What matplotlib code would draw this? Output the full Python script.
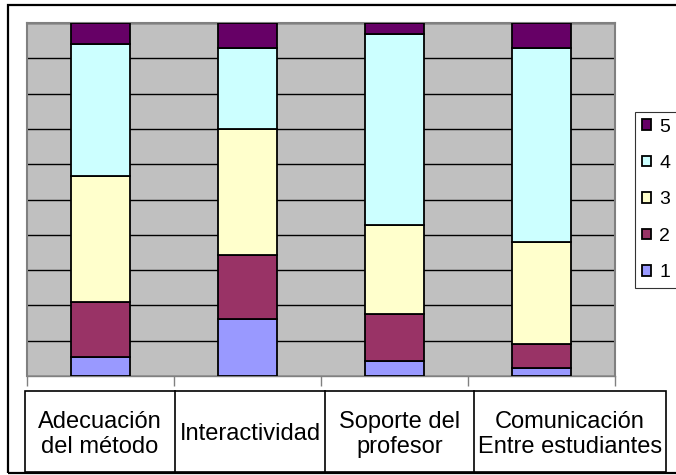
import matplotlib
matplotlib.use("Agg")
import matplotlib.pyplot as plt
from matplotlib.patches import Rectangle
from matplotlib.lines import Line2D
import numpy as np

plt.rcParams['font.family'] = ['Liberation Sans', 'DejaVu Sans']

categories = ["Adecuación\ndel método", "Interactividad", "Soporte del\nprofesor", "Comunicación\nEntre estudiantes"]
series_names = ["1", "2", "3", "4", "5"]
v1 = [5.5, 16.1, 4.3, 2.4]
v2 = [15.6, 18.1, 13.4, 6.7]
v3 = [35.6, 35.7, 25.0, 28.8]
v4 = [37.3, 22.9, 54.3, 55.0]
v5 = [6.0, 7.2, 3.0, 7.1]
colors = ["#9999FF", "#993366", "#FFFFCC", "#CCFFFF", "#660066"]

W, H = 676, 475
fig = plt.figure(figsize=(W / 100, H / 100), dpi=100)

def fx(px):
    return px / W

def fy(py):
    return 1 - py / H

# plot area
left, top, right, bottom = 27, 23, 615, 376
ax = fig.add_axes([fx(left), fy(bottom), fx(right - left), (bottom - top) / H])
ax.set_facecolor("#C0C0C0")

data = np.array([v1, v2, v3, v4, v5], dtype=float)
data = data / data.sum(axis=0) * 100
x = np.arange(len(categories))
base = np.zeros(len(categories))
handles = []
for vals, c, name in zip(data, colors, series_names):
    b = ax.bar(x, vals, width=0.4, bottom=base, color=c, edgecolor="black",
               linewidth=1.3, label=name, zorder=3)
    handles.append(b)
    base += vals

ax.set_xlim(-0.5, len(categories) - 0.5)
ax.set_ylim(0, 100)
ax.set_yticks(np.arange(0, 101, 10))
ax.yaxis.grid(True, color="black", linewidth=1.0, zorder=1)
ax.tick_params(axis="y", left=False, labelleft=False)
ax.set_xticks(np.arange(-0.5, len(categories), 1.0))
ax.tick_params(axis="x", bottom=True, labelbottom=False, length=7, color="#808080", width=1)
for side in ["left", "top", "right"]:
    ax.spines[side].set_color("#808080")
    ax.spines[side].set_linewidth(1.5)
ax.spines["bottom"].set_color("#808080")
ax.spines["bottom"].set_linewidth(1.0)

# outer frame
fig.add_artist(Rectangle((fx(8), fy(473)), 1.0, (473 - 4.5) / H, transform=fig.transFigure,
                         fill=False, edgecolor="black", linewidth=1.6))

# category table
cols = [25, 175, 325, 474, 666]
ty0, ty1 = 391, 472
fig.add_artist(Rectangle((fx(cols[0]), fy(ty1)), fx(cols[-1] - cols[0]), (ty1 - ty0) / H,
                         transform=fig.transFigure, fill=False, edgecolor="black", linewidth=1.2))
for cx in cols[1:-1]:
    fig.add_artist(Line2D([fx(cx), fx(cx)], [fy(ty0), fy(ty1)], transform=fig.transFigure,
                          color="black", linewidth=1.2))
for i, cat in enumerate(categories):
    cx = (cols[i] + cols[i + 1]) / 2
    fig.text(fx(cx), fy((ty0 + ty1) / 2 + 3), cat, ha="center", va="center",
             fontsize=17, linespacing=1.2)

# legend
leg = fig.legend(handles[::-1], series_names[::-1], loc="center left",
                 bbox_to_anchor=(fx(635), fy(200)), fontsize=14, frameon=True,
                 fancybox=False, edgecolor="black", labelspacing=1.0,
                 handlelength=0.45, handleheight=0.45, handletextpad=0.45,
                 borderpad=0.35, borderaxespad=0)
leg.get_frame().set_linewidth(0.8)

fig.savefig("out.png", dpi=100)
